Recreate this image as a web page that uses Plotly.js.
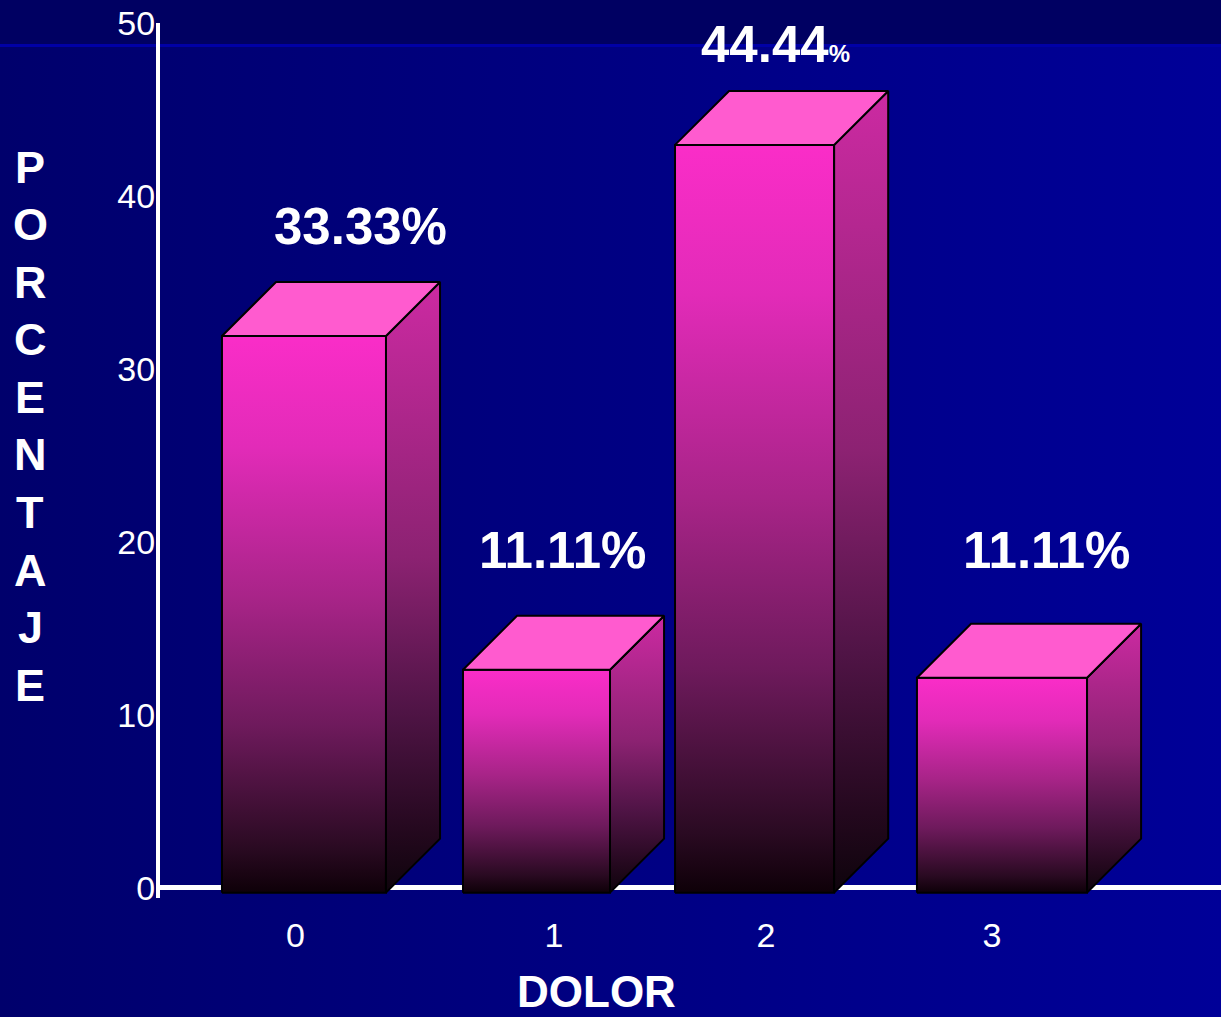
<!DOCTYPE html>
<html>
<head>
<meta charset="utf-8">
<script src="https://cdn.plot.ly/plotly-3.0.1.min.js"></script>
<style>
  html, body { margin: 0; padding: 0; }
  body {
    width: 1221px; height: 1017px; overflow: hidden;
    background:
      linear-gradient(to bottom, #000062 0px, #000062 44px, #0000a6 44px, #0000a6 47px, rgba(0,0,0,0) 47px),
      linear-gradient(to right, #00006c 0%, #000080 45%, #000098 100%);
  }
  #chart { width: 1221px; height: 1017px; }
</style>
</head>
<body>
<div id="chart"></div>
<script>
// ---- data ----
const categories = ['0', '1', '2', '3'];
const barTops = [31.9, 12.6, 42.95, 12.14];          // height of the front face of each bar
const percentLabels = ['33.33', '11.11', '44.44', '11.11'];
const yTickValues = [0, 10, 20, 30, 40, 50];
const yAxisTitle = 'PORCENTAJE';
const xAxisTitle = 'DOLOR';

// ---- layout / geometry (not data) ----
const W = 1221, H = 1017;
const M = { l: 160, r: 0, t: 23, b: 119 };
const xRange = [-0.601, 3.953];
const yRange = [-0.6, 50];
const barCenters = [0.017, 1.015, 1.951, 3.013];
const barWidths = [0.704, 0.631, 0.683, 0.730];
const tickPositions = [-0.02, 1.09, 2.0, 2.97];
const labelPx = [[360, 226], [562, 550], [775, 44], [1046, 550]];   // label centres (pixels)
const depthX = 0.232, depthY = 3.12, base = -0.29;
const smallPercent = [false, false, true, false];

const frontScale = [[0, '#0e0008'], [0.08, '#2a0a22'], [0.3, '#6e1a5c'], [0.53, '#a82488'], [0.8, '#e22bb8'], [1, '#fa2dc8']];
const sideScale = [[0, '#0e040c'], [0.1, '#24081e'], [0.3, '#501446'], [0.55, '#8c2272'], [1, '#cc2aa2']];
const topColor = '#ff5bcf';

const traces = [];
barTops.forEach((top, i) => {
  const c = barCenters[i], hw = barWidths[i] / 2;
  const xl = c - hw, xr = c + hw;
  const common = { type: 'scatter', mode: 'lines', fill: 'toself', hoverinfo: 'skip', showlegend: false,
                   line: { color: '#000000', width: 2 } };
  traces.push(Object.assign({}, common, {
    x: [xl, xr, xr, xl, xl], y: [base, base, top, top, base],
    fillgradient: { type: 'vertical', colorscale: frontScale }
  }));
  traces.push(Object.assign({}, common, {
    x: [xr, xr + depthX, xr + depthX, xr, xr], y: [base, base + depthY, top + depthY, top, base],
    fillgradient: { type: 'vertical', colorscale: sideScale }
  }));
  traces.push(Object.assign({}, common, {
    x: [xl, xr, xr + depthX, xl + depthX, xl], y: [top, top, top + depthY, top + depthY, top],
    fillcolor: topColor
  }));
});

const plotW = W - M.l - M.r, plotH = H - M.t - M.b;
const pxToPaperX = px => (px - M.l) / plotW;
const pxToPaperY = py => (H - M.b - py) / plotH;

const annotations = [];
percentLabels.forEach((v, i) => {
  annotations.push({
    xref: 'paper', yref: 'paper', x: pxToPaperX(labelPx[i][0]), y: pxToPaperY(labelPx[i][1]),
    showarrow: false, xanchor: 'center', yanchor: 'middle',
    text: smallPercent[i] ? v + '<span style="font-size:24px">%</span>' : v + '%',
    font: { family: 'Liberation Sans, Arial, sans-serif', size: 51, color: '#ffffff', weight: 'bold' }
  });
});
// vertical stacked y-axis title
yAxisTitle.split('').forEach((ch, k) => {
  annotations.push({
    xref: 'paper', yref: 'paper', x: pxToPaperX(30), y: pxToPaperY(167 + k * 57.6),
    showarrow: false, xanchor: 'center', yanchor: 'middle', text: ch,
    font: { family: 'Liberation Sans, Arial, sans-serif', size: 45, color: '#ffffff', weight: 'bold' }
  });
});
annotations.push({
  xref: 'paper', yref: 'paper', x: pxToPaperX(596), y: pxToPaperY(991),
  showarrow: false, xanchor: 'center', yanchor: 'middle', text: xAxisTitle,
  font: { family: 'Liberation Sans, Arial, sans-serif', size: 44, color: '#ffffff', weight: 'bold' }
});

const layout = {
  width: W, height: H, margin: M,
  paper_bgcolor: 'rgba(0,0,0,0)', plot_bgcolor: 'rgba(0,0,0,0)',
  showlegend: false,
  xaxis: {
    range: xRange, showgrid: false, zeroline: false, showline: false,
    tickmode: 'array', tickvals: tickPositions, ticktext: categories, ticks: '',
    ticklabelstandoff: 14,
    tickfont: { family: 'Liberation Sans, Arial, sans-serif', size: 34, color: '#ffffff' },
    fixedrange: true
  },
  yaxis: {
    range: yRange, showgrid: false,
    zeroline: true, zerolinecolor: '#ffffff', zerolinewidth: 5,
    showline: true, linecolor: '#ffffff', linewidth: 4,
    tickmode: 'array', tickvals: yTickValues, ticktext: yTickValues.map(String), ticks: '',
    ticklabelstandoff: -6,
    tickfont: { family: 'Liberation Sans, Arial, sans-serif', size: 34, color: '#ffffff' },
    fixedrange: true
  },
  annotations: annotations
};

Plotly.newPlot('chart', traces, layout, { displayModeBar: false, staticPlot: true });
</script>
</body>
</html>
